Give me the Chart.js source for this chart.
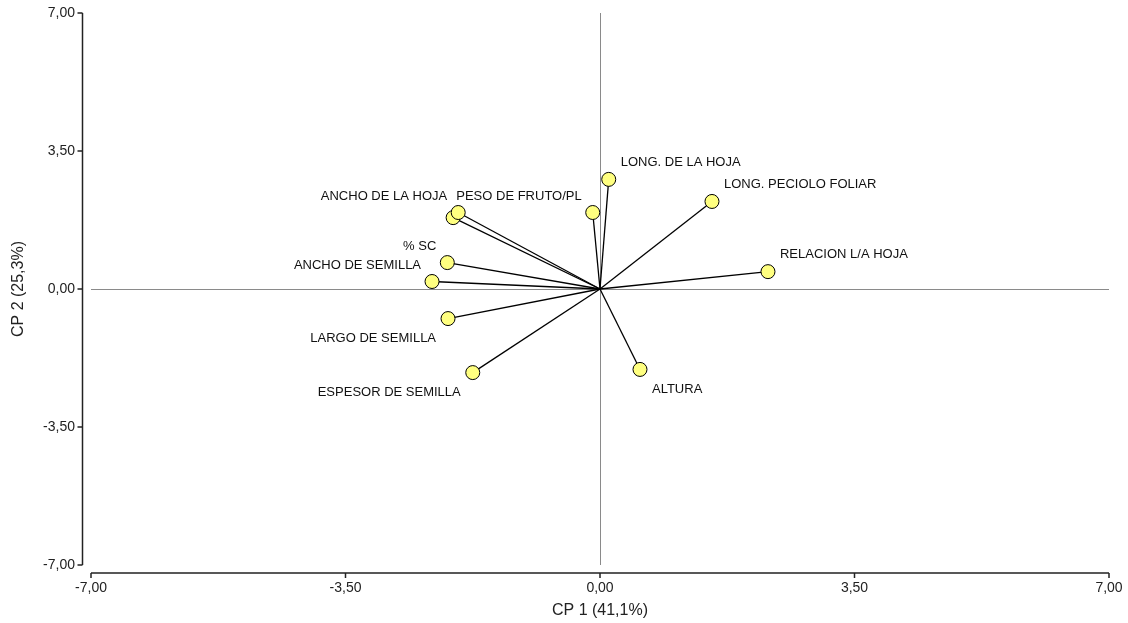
<!DOCTYPE html>
<html><head><meta charset="utf-8">
<script src="https://cdn.jsdelivr.net/npm/chart.js@4/dist/chart.umd.min.js"></script>
<style>html,body{margin:0;padding:0;background:#fff}#wrap{width:1128px;height:623px}</style>
</head><body><div id="wrap"><canvas id="c" width="1128" height="623"></canvas></div>
<script>
// ---- data ----
const variables = ['LONG. DE LA HOJA','PESO DE FRUTO/PL','LONG. PECIOLO FOLIAR','RELACION L/A HOJA','ALTURA','ESPESOR DE SEMILLA','LARGO DE SEMILLA','ANCHO DE SEMILLA','% SC','','ANCHO DE LA HOJA'];
const cp1 = [0.12, -0.10, 1.54, 2.31, 0.55, -1.75, -2.09, -2.31, -2.10, -2.02, -1.95];
const cp2 = [2.78, 1.94, 2.22, 0.44, -2.04, -2.12, -0.75, 0.19, 0.67, 1.81, 1.94];
const axisTicks = [-7, -3.5, 0, 3.5, 7];
const xTitle = 'CP 1 (41,1%)';
const yTitle = 'CP 2 (25,3%)';

// ---- label placement (style) ----
const placement = {
  'LONG. DE LA HOJA':'ne','PESO DE FRUTO/PL':'nw','LONG. PECIOLO FOLIAR':'ne','RELACION L/A HOJA':'ne',
  'ALTURA':'se','ESPESOR DE SEMILLA':'sw','LARGO DE SEMILLA':'sw','ANCHO DE SEMILLA':'nw','% SC':'nw','ANCHO DE LA HOJA':'nw'
};
const offs = {ne:{dx:12,dy:-17,a:'left'}, nw:{dx:-11,dy:-16,a:'right'}, se:{dx:12,dy:20,a:'left'}, sw:{dx:-12,dy:20,a:'right'}};
const FONT = '"Liberation Sans", Arial, sans-serif';
const fmt = v => Number(v).toFixed(2).replace('.', ',');

const vectorSets = cp1.map((x, i) => ({
  type: 'scatter', showLine: true, order: 2,
  data: [{x: 0, y: 0}, {x: x, y: cp2[i]}],
  borderColor: '#000', borderWidth: 1.3, pointRadius: 0, pointHoverRadius: 0, fill: false
}));
const pointSet = {
  type: 'scatter', order: 1,
  data: cp1.map((x, i) => ({x: x, y: cp2[i]})),
  pointRadius: 7, pointHoverRadius: 7, pointBackgroundColor: '#ffff80',
  pointBorderColor: '#000', pointBorderWidth: 1, showLine: false
};

const axesPlugin = {
  id: 'axesPlugin',
  afterDraw(chart) {
    const {ctx, chartArea: ca, scales: {x, y}} = chart;
    ctx.save();
    ctx.strokeStyle = '#222'; ctx.lineWidth = 1.5;
    const ax = ca.left - 8.5;
    ctx.beginPath();
    ctx.moveTo(ax, y.getPixelForValue(7)); ctx.lineTo(ax, y.getPixelForValue(-7));
    axisTicks.forEach(v => { const py = y.getPixelForValue(v); ctx.moveTo(ax, py); ctx.lineTo(ax - 5, py); });
    ctx.stroke();
    const ay = ca.bottom + 8;
    ctx.beginPath();
    ctx.moveTo(x.getPixelForValue(-7), ay); ctx.lineTo(x.getPixelForValue(7), ay);
    axisTicks.forEach(v => { const px = x.getPixelForValue(v); ctx.moveTo(px, ay); ctx.lineTo(px, ay + 5); });
    ctx.stroke();
    ctx.restore();
  }
};
const labelPlugin = {
  id: 'labelPlugin',
  afterDatasetsDraw(chart) {
    const {ctx, scales: {x, y}} = chart;
    ctx.save();
    ctx.font = '13px ' + FONT; ctx.fillStyle = '#111'; ctx.textBaseline = 'middle';
    variables.forEach((name, i) => {
      if (!name) return;
      const o = offs[placement[name]];
      const px = x.getPixelForValue(cp1[i]), py = y.getPixelForValue(cp2[i]);
      ctx.textAlign = o.a;
      ctx.fillText(name, px + o.dx, py + o.dy);
    });
    ctx.restore();
  }
};

const gridZero = ctx => (ctx.tick && ctx.tick.value === 0) ? '#8a8a8a' : 'rgba(0,0,0,0)';
const noPad = s => { s.paddingTop = 0; s.paddingBottom = 0; s.paddingLeft = 0; s.paddingRight = 0; };

new Chart(document.getElementById('c'), {
  type: 'scatter',
  data: {datasets: [pointSet, ...vectorSets]},
  options: {
    responsive: false, animation: false,
    layout: {padding: {top: 13, right: 19, left: 0, bottom: 0}},
    plugins: {legend: {display: false}, tooltip: {enabled: false}},
    events: [],
    scales: {
      x: {
        type: 'linear', min: -7, max: 7,
        afterBuildTicks: s => { s.ticks = axisTicks.map(v => ({value: v})); },
        afterFit: s => { s.height = 58; noPad(s); },
        ticks: {callback: v => fmt(v), font: {size: 14, family: FONT}, color: '#222', padding: 15, maxRotation: 0, autoSkip: false},
        grid: {color: gridZero, lineWidth: 1, drawTicks: false},
        border: {display: false},
        title: {display: true, text: xTitle, font: {size: 16, family: FONT}, color: '#222', padding: {top: 0, bottom: 3}}
      },
      y: {
        type: 'linear', min: -7, max: 7,
        afterBuildTicks: s => { s.ticks = axisTicks.map(v => ({value: v})); },
        afterFit: s => { s.width = 91; noPad(s); },
        ticks: {callback: v => fmt(v), font: {size: 14, family: FONT}, color: '#222', padding: 16, autoSkip: false},
        grid: {color: gridZero, lineWidth: 1, drawTicks: false},
        border: {display: false},
        title: {display: true, text: yTitle, font: {size: 16, family: FONT}, color: '#222', padding: {top: 9, bottom: 0}}
      }
    }
  },
  plugins: [axesPlugin, labelPlugin]
});
</script></body></html>
